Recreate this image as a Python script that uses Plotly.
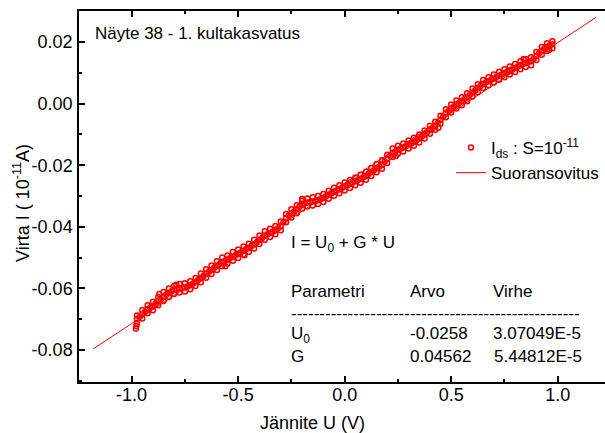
import plotly.graph_objects as go

# ---- data ----
U_grid = [-0.975, -0.950, -0.925, -0.900, -0.875, -0.850, -0.825, -0.800, -0.775, -0.750,
          -0.725, -0.700, -0.675, -0.650, -0.625, -0.600, -0.575, -0.550, -0.525, -0.500,
          -0.475, -0.450, -0.425, -0.400, -0.375, -0.350, -0.325, -0.300, -0.275, -0.250,
          -0.225, -0.200, -0.175, -0.150, -0.125, -0.100, -0.075, -0.050, -0.025, 0.000,
          0.025, 0.050, 0.075, 0.100, 0.125, 0.150, 0.175, 0.200, 0.225, 0.250,
          0.275, 0.300, 0.325, 0.350, 0.375, 0.400, 0.425, 0.450, 0.475, 0.500,
          0.525, 0.550, 0.575, 0.600, 0.625, 0.650, 0.675, 0.700, 0.725, 0.750,
          0.775, 0.800, 0.825, 0.850, 0.875, 0.900, 0.925, 0.950, 0.975]

I_center = [-0.0700, -0.0685, -0.0668, -0.0658, -0.0642, -0.0628, -0.0615, -0.0605, -0.0600, -0.0597,
            -0.0590, -0.0579, -0.0567, -0.0552, -0.0540, -0.0527, -0.0515, -0.0506, -0.0497, -0.0488,
            -0.0478, -0.0468, -0.0457, -0.0443, -0.0429, -0.0420, -0.0411, -0.0398, -0.0372, -0.0357,
            -0.0343, -0.0328, -0.0321, -0.0318, -0.0313, -0.0306, -0.0296, -0.0286, -0.0278, -0.0269,
            -0.0261, -0.0252, -0.0244, -0.0234, -0.0222, -0.0210, -0.0198, -0.0180, -0.0160, -0.0150,
            -0.0142, -0.0133, -0.0124, -0.0113, -0.0100, -0.0085, -0.0072, -0.0052, -0.0031, -0.0016,
            -0.0003, 0.0008, 0.0021, 0.0036, 0.0050, 0.0064, 0.0073, 0.0082, 0.0091, 0.0099,
            0.0108, 0.0116, 0.0125, 0.0132, 0.0138, 0.0155, 0.0172, 0.0184, 0.0193]

I_upper = [-0.0688, -0.0670, -0.0655, -0.0643, -0.0628, -0.0612, -0.0600, -0.0591, -0.0586, -0.0583,
           -0.0577, -0.0566, -0.0552, -0.0538, -0.0526, -0.0512, -0.0500, -0.0493, -0.0482, -0.0474,
           -0.0464, -0.0455, -0.0442, -0.0428, -0.0414, -0.0406, -0.0397, -0.0383, -0.0358, -0.0343,
           -0.0330, -0.0315, -0.0308, -0.0304, -0.0300, -0.0293, -0.0283, -0.0273, -0.0265, -0.0256,
           -0.0248, -0.0240, -0.0231, -0.0221, -0.0209, -0.0196, -0.0184, -0.0166, -0.0146, -0.0137,
           -0.0129, -0.0120, -0.0111, -0.0100, -0.0087, -0.0072, -0.0059, -0.0039, -0.0018, -0.0003,
           0.0010, 0.0021, 0.0034, 0.0049, 0.0063, 0.0077, 0.0086, 0.0095, 0.0104, 0.0112,
           0.0121, 0.0129, 0.0138, 0.0145, 0.0151, 0.0168, 0.0184, 0.0196, 0.0203]

I_lower = [-0.0713, -0.0698, -0.0681, -0.0671, -0.0655, -0.0641, -0.0628, -0.0618, -0.0613, -0.0610,
           -0.0603, -0.0592, -0.0580, -0.0565, -0.0553, -0.0540, -0.0528, -0.0519, -0.0510, -0.0501,
           -0.0491, -0.0481, -0.0470, -0.0456, -0.0442, -0.0433, -0.0424, -0.0411, -0.0385, -0.0370,
           -0.0356, -0.0341, -0.0334, -0.0331, -0.0326, -0.0319, -0.0309, -0.0299, -0.0291, -0.0282,
           -0.0274, -0.0265, -0.0257, -0.0247, -0.0235, -0.0223, -0.0211, -0.0193, -0.0173, -0.0163,
           -0.0155, -0.0146, -0.0137, -0.0126, -0.0113, -0.0098, -0.0085, -0.0065, -0.0044, -0.0029,
           -0.0016, -0.0005, 0.0008, 0.0023, 0.0037, 0.0051, 0.0060, 0.0069, 0.0078, 0.0086,
           0.0095, 0.0103, 0.0112, 0.0119, 0.0125, 0.0142, 0.0159, 0.0171, 0.0180]

U_half = [-0.9625, -0.9375, -0.9125, -0.8875, -0.8625, -0.8375, -0.8125, -0.7875, -0.7625, -0.7375,
          -0.7125, -0.6875, -0.6625, -0.6375, -0.6125, -0.5875, -0.5625, -0.5375, -0.5125, -0.4875,
          -0.4625, -0.4375, -0.4125, -0.3875, -0.3625, -0.3375, -0.3125, -0.2875, -0.2625, -0.2375,
          -0.2125, -0.1875, -0.1625, -0.1375, -0.1125, -0.0875, -0.0625, -0.0375, -0.0125, 0.0125,
          0.0375, 0.0625, 0.0875, 0.1125, 0.1375, 0.1625, 0.1875, 0.2125, 0.2375, 0.2625,
          0.2875, 0.3125, 0.3375, 0.3625, 0.3875, 0.4125, 0.4375, 0.4625, 0.4875, 0.5125,
          0.5375, 0.5625, 0.5875, 0.6125, 0.6375, 0.6625, 0.6875, 0.7125, 0.7375, 0.7625,
          0.7875, 0.8125, 0.8375, 0.8625, 0.8875, 0.9125, 0.9375, 0.9625]

I_mid = [-0.0692, -0.0677, -0.0662, -0.0650, -0.0636, -0.0621, -0.0609, -0.0603, -0.0598, -0.0594,
         -0.0585, -0.0573, -0.0560, -0.0546, -0.0533, -0.0521, -0.0511, -0.0501, -0.0492, -0.0483,
         -0.0473, -0.0462, -0.0450, -0.0436, -0.0424, -0.0416, -0.0405, -0.0385, -0.0364, -0.0350,
         -0.0335, -0.0324, -0.0320, -0.0316, -0.0310, -0.0301, -0.0291, -0.0282, -0.0273, -0.0265,
         -0.0256, -0.0248, -0.0239, -0.0228, -0.0216, -0.0204, -0.0189, -0.0170, -0.0155, -0.0146,
         -0.0138, -0.0129, -0.0119, -0.0107, -0.0093, -0.0079, -0.0062, -0.0042, -0.0024, -0.0010,
         0.0003, 0.0015, 0.0029, 0.0043, 0.0057, 0.0069, 0.0078, 0.0087, 0.0095, 0.0104,
         0.0112, 0.0121, 0.0129, 0.0135, 0.0146, 0.0164, 0.0178, 0.0189]

# a few scattered outlier readings
U_out = [-0.980, -0.978, -0.870, -0.790, -0.560, -0.470, -0.200, 0.240, 0.440, 0.840, 0.960]
I_out = [-0.0730, -0.0722, -0.0618, -0.0588, -0.0528, -0.0492, -0.0310, -0.0170, -0.0078, 0.0145, 0.0175]

# fit parameters shown in the chart
U0 = -0.0258
G = 0.04562
fit_U = [-1.18, 1.18]

x_ticks = [-1.0, -0.5, 0.0, 0.5, 1.0]
x_ticktext = ["-1.0", "-0.5", "0.0", "0.5", "1.0"]
y_ticks = [-0.08, -0.06, -0.04, -0.02, 0.0, 0.02]
y_ticktext = ["-0.08", "-0.06", "-0.04", "-0.02", "0.00", "0.02"]

FONT = "Liberation Sans, Arial, sans-serif"
RED = "#ff0000"

U_all = U_grid + U_half + U_grid + U_grid + U_out
I_all = I_center + I_mid + I_upper + I_lower + I_out

fig = go.Figure()
fig.add_trace(go.Scatter(
    x=U_all, y=I_all, mode="markers",
    marker=dict(symbol="circle-open", size=5, color=RED, line=dict(width=1.5, color=RED)),
    name="I<sub>ds</sub> : S=10<sup>-11</sup>"))
fig.add_trace(go.Scatter(
    x=fit_U, y=[U0 + G * u for u in fit_U], mode="lines",
    line=dict(color=RED, width=1), name="Suoransovitus"))

# invisible trace to activate the top axis
fig.add_trace(go.Scatter(x=[0], y=[0], xaxis="x2", mode="markers",
                         marker=dict(opacity=0), showlegend=False, hoverinfo="skip"))

L, T, B = 79, 11, 51
W, H = 605, 433
PW, PH = W - L, H - T - B

def px(x):
    return (x - L) / PW

def py(y):
    return (H - B - y) / PH

xr = [-1.247, 1.222]
minor_common = dict(ticks="inside", ticklen=3, tickcolor="black", tickwidth=1.5)
axis_common = dict(showgrid=False, zeroline=False, linecolor="black", linewidth=1.5,
                   tickcolor="black", tickwidth=1.5, ticks="inside", ticklen=6, showline=True,
                   automargin=False,
                   tickfont=dict(family=FONT, size=18, color="black"))

fig.update_layout(
    width=W, height=H,
    margin=dict(l=L, r=0, t=T, b=B),
    plot_bgcolor="white", paper_bgcolor="white",
    font=dict(family=FONT, size=17, color="black"),
    xaxis=dict(range=xr, tickvals=x_ticks, ticktext=x_ticktext, ticklabelstandoff=-4,
               minor=dict(dtick=0.25, tick0=0, **minor_common), **axis_common),
    xaxis2=dict(range=xr, overlaying="x", side="top", showticklabels=False, tickvals=x_ticks,
                minor=dict(dtick=0.25, tick0=0, **minor_common), **axis_common),
    yaxis=dict(range=[-0.0904, 0.0301], tickvals=y_ticks, ticktext=y_ticktext, ticklabelstandoff=1,
               minor=dict(dtick=0.01, tick0=0, **minor_common), **axis_common),
    showlegend=True,
    legend=dict(x=px(451), y=py(130), xanchor="left", yanchor="top",
                bgcolor="rgba(0,0,0,0)", borderwidth=0,
                font=dict(family=FONT, size=17, color="black"),
                tracegroupgap=0),
)

ann = []
def text(x, y, s, xanchor="left", angle=0, size=17):
    ann.append(dict(x=px(x), y=py(y), xref="paper", yref="paper", text=s, showarrow=False,
                    xanchor=xanchor, yanchor="middle", textangle=angle,
                    font=dict(family=FONT, size=size, color="black")))

text(93, 34, "Näyte 38 - 1. kultakasvatus")
text(289, 244, "I = U<sub>0</sub> + G * U")
text(289, 291, "Parametri")
text(408, 291, "Arvo")
text(491, 291, "Virhe")
text(289, 313, "-" * 51)
text(289, 335, "U<sub>0</sub>")
text(408, 333, "-0.0258")
text(491, 333, "3.07049E-5")
text(289, 356, "G")
text(408, 356, "0.04562")
text(492, 356, "5.44812E-5")
text(312, 423, "Jännite U (V)", xanchor="center", size=18)
ann.append(dict(x=px(22), y=py(203), xref="paper", yref="paper",
                text="Virta I ( 10<sup>-11</sup>A)", showarrow=False, textangle=-90,
                xanchor="center", yanchor="middle",
                font=dict(family=FONT, size=18, color="black")))
fig.update_layout(annotations=ann)

fig.write_html("out.html")
